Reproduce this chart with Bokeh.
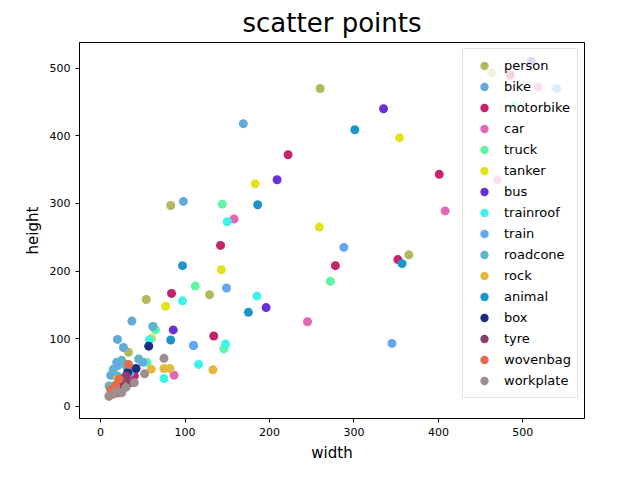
from bokeh.plotting import figure
from bokeh.embed import file_html
from bokeh.resources import INLINE
from bokeh.models import Legend, LegendItem, Range1d

categories = ["person","bike","motorbike","car","truck","tanker","bus","trainroof","train","roadcone","rock","animal","box","tyre","wovenbag","workplate"]
colors = ["#b3b85c","#62aad6","#c4246c","#e068b8","#60f5a2","#e3e31c","#6a30d8","#3cf5e8","#62a8f5","#5cb5c9","#e3b83c","#1c96c9","#1c2e80","#8a406c","#e66a4c","#a08e8e"]
widths = [
 [83,260,365,129,54,33,463,25,15],
 [169,98,37,62,20,27,12,110,19,30,15,40],
 [222,134,401,84,142,278,352,485,20,40],
 [158,245,408,87,60,518,470,30],
 [144,272,112,146,65,490,55,20],
 [183,354,259,143,77,60,25],
 [335,209,196,86,510],
 [150,97,185,148,116,75,58,28],
 [288,149,110,345,540,50,20],
 [62,30,20,35,10,25,45,15],
 [133,82,75,60,30,20],
 [301,186,97,175,357,83,25],
 [57,42,22,32],
 [25,30,20,35],
 [33,22,12,10,18],
 [75,52,40,30,20,15,10,25],
]
heights = [
 [297,470,224,165,158,80,493,40,20],
 [418,303,126,118,99,87,46,90,65,62,30,55],
 [372,104,343,167,238,208,217,490,20,45],
 [277,125,289,46,100,472,335,40],
 [299,185,178,85,113,445,65,25],
 [329,397,265,202,148,100,30],
 [440,335,146,113,510],
 [273,156,163,92,62,41,98,35],
 [235,175,90,93,470,65,60],
 [118,60,45,50,30,68,70,55],
 [54,56,56,55,30,40],
 [409,298,208,139,211,98,40],
 [89,56,35,50],
 [40,45,30,35],
 [62,40,25,15,30],
 [71,48,35,28,22,18,15,20],
]

p = figure(width=624, height=464, output_backend="svg", toolbar_location=None,
           title="scatter points", x_range=Range1d(-25, 573), y_range=Range1d(-18, 538))
p.title.text_font_size = "26px"; p.title.align = "center"; p.title.text_font_style = "normal"
p.title.text_font = "DejaVu Sans"; p.title.text_color = "black"
p.min_border_left = 79; p.min_border_right = 40; p.min_border_top = 26; p.min_border_bottom = 36
p.xaxis.axis_label = "width"; p.yaxis.axis_label = "height"
for ax in (p.xaxis, p.yaxis):
    ax.axis_label_text_font_size = "15px"; ax.axis_label_text_font_style = "normal"
    ax.axis_label_text_font = "DejaVu Sans"; ax.axis_label_text_color = "black"
    ax.major_label_text_font_size = "11px"; ax.major_label_text_font = "DejaVu Sans"
    ax.major_label_text_color = "black"
    ax.minor_tick_line_color = None
    ax.major_tick_in = 0; ax.major_tick_out = 4
p.xaxis.ticker = [0,100,200,300,400,500]
p.yaxis.ticker = [0,100,200,300,400,500]
p.grid.visible = False
p.outline_line_color = "black"

items = []
for c, col, w, h in zip(categories, colors, widths, heights):
    r = p.scatter(w, h, size=9, color=col, line_color=None)
    items.append(LegendItem(label=c, renderers=[r]))
leg = Legend(items=items, location="top_right", label_text_font_size="13px",
             label_text_font="DejaVu Sans", spacing=0, label_height=21, glyph_height=21,
             padding=6, margin=6, background_fill_alpha=0.8, border_line_color="#cccccc",
             glyph_width=30, label_text_color="black")
p.add_layout(leg)

open("out.html", "w").write(file_html(p, INLINE))
